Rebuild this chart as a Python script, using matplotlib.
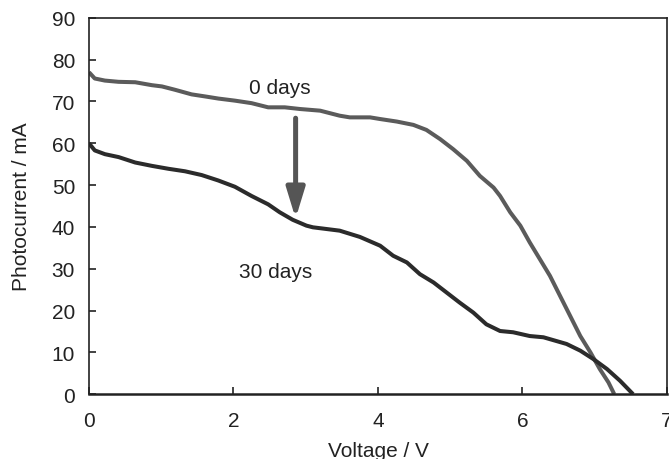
import matplotlib.pyplot as plt

plt.rcParams['font.family'] = ['Liberation Sans', 'DejaVu Sans']

# 0 days curve
v_0d = [0.0, 0.08, 0.22, 0.41, 0.64, 0.87, 1.01, 1.19, 1.42, 1.61, 1.79, 2.02, 2.25, 2.48, 2.71,
        2.92, 3.20, 3.47, 3.61, 3.89, 4.03, 4.26, 4.49, 4.67, 4.86, 5.04, 5.23, 5.41, 5.60, 5.69,
        5.83, 5.97, 6.10, 6.24, 6.38, 6.52, 6.66, 6.80, 6.94, 7.07, 7.19, 7.27]
i_0d = [77.0, 75.5, 75.0, 74.7, 74.6, 73.9, 73.6, 72.8, 71.7, 71.2, 70.7, 70.2, 69.6, 68.6, 68.6,
        68.2, 67.8, 66.6, 66.2, 66.2, 65.8, 65.2, 64.4, 63.2, 61.0, 58.6, 55.8, 52.2, 49.4, 47.4,
        43.5, 40.3, 36.3, 32.3, 28.3, 23.5, 18.7, 13.9, 10.0, 6.0, 2.8, 0.0]

# 30 days curve
v_30d = [0.0, 0.08, 0.22, 0.41, 0.64, 0.87, 1.10, 1.33, 1.56, 1.79, 2.02, 2.25, 2.48, 2.64, 2.82,
         3.01, 3.10, 3.24, 3.47, 3.75, 4.03, 4.21, 4.40, 4.58, 4.77, 4.95, 5.13, 5.32, 5.50, 5.69,
         5.87, 6.10, 6.29, 6.43, 6.61, 6.80, 6.98, 7.17, 7.35, 7.53]
i_30d = [60.0, 58.3, 57.4, 56.7, 55.4, 54.6, 53.9, 53.3, 52.4, 51.1, 49.6, 47.4, 45.4, 43.5, 41.7,
         40.3, 39.9, 39.6, 39.1, 37.6, 35.5, 33.1, 31.5, 28.7, 26.7, 24.3, 21.9, 19.5, 16.7, 15.1,
         14.8, 13.9, 13.6, 12.9, 12.0, 10.4, 8.4, 6.0, 3.2, 0.0]

x_ticks = [0, 2, 4, 6, 8]
x_tick_labels = ['0', '2', '4', '6', '7']
y_ticks = [0, 10, 20, 30, 40, 50, 60, 70, 80, 90]

fig = plt.figure(figsize=(6.69, 4.60), dpi=100)
ax = fig.add_axes([0.133, 0.141, 0.864, 0.818])

ax.plot(v_0d, i_0d, color='#5b5b5b', lw=2.9, solid_capstyle='butt')
ax.plot(v_30d, i_30d, color='#2b2b2b', lw=2.9, solid_capstyle='butt')

# ageing arrow
ax.annotate('', xy=(2.86, 42.0), xytext=(2.86, 66.0),
            arrowprops=dict(arrowstyle='-|>,head_length=1.8,head_width=0.55', mutation_scale=10,
                            lw=3.6, color='#555555', shrinkA=0, shrinkB=0))

ax.text(2.21, 72.0, '0 days', fontsize=15, color='#222222')
ax.text(2.07, 28.0, '30 days', fontsize=15, color='#222222')

ax.set_xlim(0, 8)
ax.set_ylim(0, 90)
ax.set_xticks(x_ticks)
ax.set_xticklabels(x_tick_labels)
ax.set_yticks(y_ticks)
ax.tick_params(direction='in', length=5, width=1.2, labelsize=15, colors='#222222')
ax.tick_params(axis='x', pad=12)
ax.tick_params(axis='y', pad=10)

for s in ax.spines.values():
    s.set_color('#222222')
    s.set_linewidth(1.2)
ax.spines['bottom'].set_linewidth(1.8)

ax.set_xlabel('Voltage / V', fontsize=15, color='#222222')
ax.set_ylabel('Photocurrent / mA', fontsize=15, color='#222222')
ax.xaxis.set_label_coords(0.5, -0.124)
ax.yaxis.set_label_coords(-0.1, 0.5)

fig.savefig('out.png', dpi=100)
